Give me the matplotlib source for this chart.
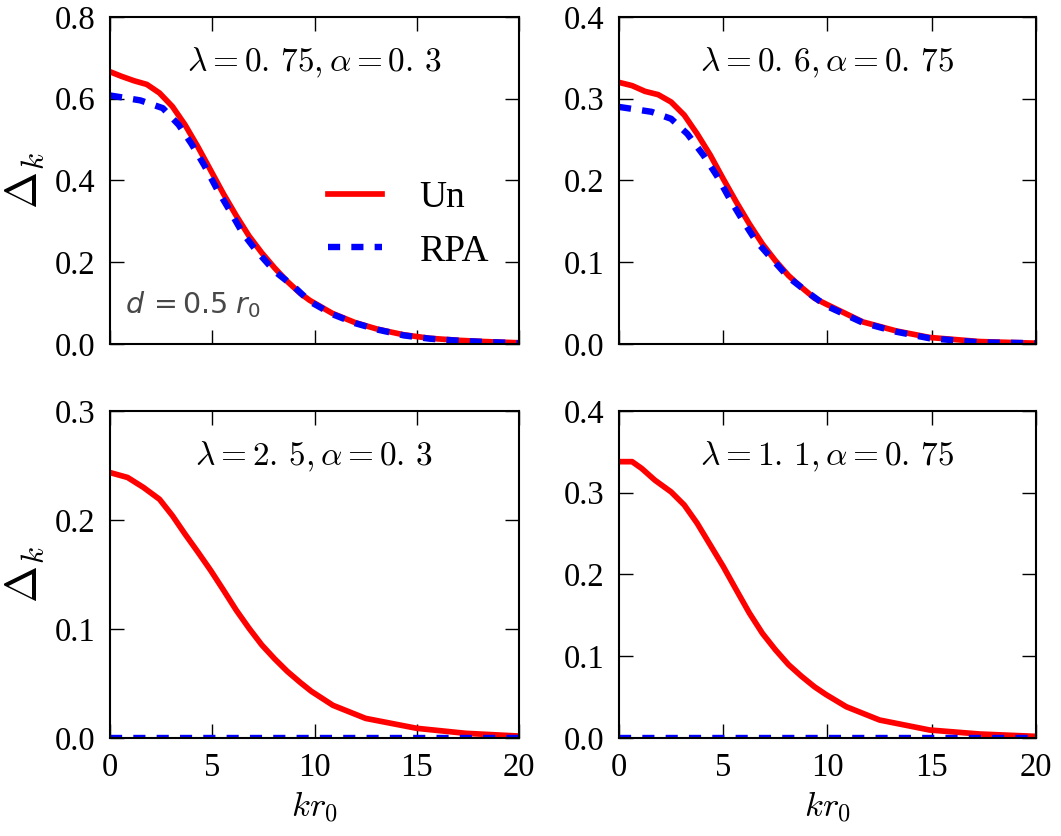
import numpy as np
import matplotlib
matplotlib.use("Agg")
import matplotlib.pyplot as plt

plt.rcParams['font.family'] = ['Liberation Serif', 'DejaVu Serif']
plt.rcParams['mathtext.fontset'] = 'cm'

# ---- data ----
# top left: lambda=0.75, alpha=0.3
k_tl = [0, 0.55, 1.17, 1.80, 2.42, 3.05, 3.67, 4.30, 4.92, 5.55, 6.17, 6.80, 7.42, 8.05, 8.67,
        9.30, 9.76, 10.87, 11.98, 13.1, 14.37, 15.63, 17.06, 18.3, 20]
un_tl = [0.666, 0.655, 0.644, 0.635, 0.614, 0.581, 0.536, 0.482, 0.425, 0.367, 0.314, 0.264, 0.223,
         0.186, 0.153, 0.124, 0.107, 0.075, 0.0525, 0.036, 0.0225, 0.014, 0.009, 0.006, 0.003]
k_tl_rpa = [0, 1.48, 2.58, 3.36, 3.98, 4.61, 5.23, 5.86, 6.48, 7.11, 8.05, 8.98, 9.77, 10.87,
            11.98, 13.1, 14.37, 15.63, 17.06, 18.3, 20]
rpa_tl = [0.608, 0.596, 0.577, 0.536, 0.490, 0.437, 0.379, 0.326, 0.272, 0.231, 0.178, 0.141, 0.104,
          0.073, 0.051, 0.035, 0.021, 0.013, 0.008, 0.005, 0.002]

# top right: lambda=0.6, alpha=0.75
k_tr = [0, 0.63, 1.25, 1.88, 2.50, 3.13, 3.75, 4.38, 5.00, 5.63, 6.25, 6.88, 7.50, 8.13, 8.75,
        9.38, 9.92, 11.7, 13.3, 14.9, 17.3, 20]
un_tr = [0.320, 0.316, 0.309, 0.305, 0.296, 0.280, 0.257, 0.231, 0.202, 0.1735, 0.147, 0.1224, 0.102,
         0.0837, 0.0694, 0.056, 0.049, 0.027, 0.016, 0.008, 0.003, 0.001]
k_tr_rpa = [0, 1.56, 2.50, 3.28, 4.06, 4.69, 5.31, 5.94, 6.56, 7.34, 8.13, 9.06, 9.92, 11.7,
            13.3, 14.9, 17.3, 20]
rpa_tr = [0.290, 0.284, 0.2755, 0.257, 0.2306, 0.206, 0.1776, 0.151, 0.1265, 0.104, 0.0816, 0.063,
          0.047, 0.026, 0.015, 0.007, 0.002, 0.001]

# bottom left: lambda=2.5, alpha=0.3
k_bl = [0, 0.86, 1.64, 2.42, 3.05, 3.67, 4.30, 4.92, 5.55, 6.17, 6.80, 7.42, 8.05, 8.67, 9.30,
        9.84, 10.9, 12.5, 15.0, 17.4, 20]
un_bl = [0.2435, 0.239, 0.2298, 0.219, 0.204, 0.187, 0.1705, 0.1538, 0.1356, 0.1173, 0.1006, 0.0854,
         0.0726, 0.0611, 0.051, 0.0429, 0.030, 0.018, 0.0089, 0.0043, 0.0018]
k_bl_rpa = [0, 20]
rpa_bl = [0.0, 0.0]

# bottom right: lambda=1.1, alpha=0.75
k_br = [0, 0.63, 1.09, 1.72, 2.50, 3.13, 3.75, 4.38, 5.00, 5.63, 6.25, 6.88, 7.50, 8.13, 8.75,
        9.38, 9.92, 10.9, 12.5, 14.9, 17.3, 20]
un_br = [0.338, 0.338, 0.3297, 0.3154, 0.301, 0.285, 0.2626, 0.236, 0.2098, 0.181, 0.153, 0.128, 0.108,
         0.0898, 0.0756, 0.0626, 0.0533, 0.0383, 0.022, 0.0098, 0.0049, 0.002]
k_br_rpa = [0, 20]
rpa_br = [0.0, 0.0]

titles = [r'$\lambda=0.\,75,\alpha=0.\,3$', r'$\lambda=0.\,6,\alpha=0.\,75$',
          r'$\lambda=2.\,5,\alpha=0.\,3$', r'$\lambda=1.\,1,\alpha=0.\,75$']
ylims = [0.8, 0.4, 0.3, 0.4]
ysteps = [0.2, 0.1, 0.1, 0.1]
xticks = [0, 5, 10, 15, 20]

panels = [(k_tl, un_tl, k_tl_rpa, rpa_tl), (k_tr, un_tr, k_tr_rpa, rpa_tr),
          (k_bl, un_bl, k_bl_rpa, rpa_bl), (k_br, un_br, k_br_rpa, rpa_br)]

fig = plt.figure(figsize=(10.61, 8.36), dpi=100)
rects = [[0.1037, 0.5885, 0.3855, 0.3912], [0.5834, 0.5885, 0.3930, 0.3912],
         [0.1037, 0.1172, 0.3855, 0.3912], [0.5834, 0.1172, 0.3930, 0.3912]]

for i, (rect, (ku, yu, kr, yr)) in enumerate(zip(rects, panels)):
    ax = fig.add_axes(rect)
    ax.plot(ku, yu, color='red', lw=4.1, label='Un')
    ax.plot(kr, yr, color='blue', lw=4.6, ls=(0, (1.9, 1.75)), label='RPA')
    ax.set_xlim(0, 20)
    ax.set_ylim(0, ylims[i])
    ax.set_xticks(xticks)
    ax.set_yticks(np.arange(0, ylims[i] + 1e-9, ysteps[i]))
    ax.yaxis.set_major_formatter(matplotlib.ticker.FormatStrFormatter('%.1f'))
    ax.tick_params(direction='in', top=True, right=True, length=10, width=1,
                   labelsize=23.5, pad=10.5)
    for s in ax.spines.values():
        s.set_linewidth(1.5)
    ax.text(0.5, 0.86, titles[i], transform=ax.transAxes, ha='center', va='center', fontsize=24)
    if i < 2:
        ax.tick_params(labelbottom=False)
    else:
        ax.set_xlabel(r'$kr_0$', fontsize=25, labelpad=4)
    if i % 2 == 0:
        ax.set_ylabel(r'$\Delta_k$', fontsize=32, labelpad=6)
    if i == 0:
        ax.legend(loc='center left', bbox_to_anchor=(0.45, 0.365), frameon=False,
                  fontsize=27, handlelength=1.45, handletextpad=1.0, labelspacing=0.5)
        ax.text(0.037, 0.12, r'$d\,=0.5\;r_0$', transform=ax.transAxes, ha='left', va='center',
                fontsize=20.5, color='#484848', math_fontfamily='dejavusans')

fig.savefig('out.png', dpi=100)
